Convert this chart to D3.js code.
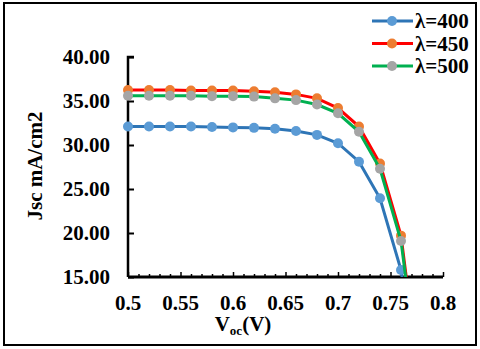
<!DOCTYPE html>
<html>
<head>
<meta charset="utf-8">
<script src="https://cdn.jsdelivr.net/npm/d3@7"></script>
<style>
  body { margin: 0; background: #fff; }
</style>
</head>
<body>
<div id="chart"></div>
<script>
// voltage points (V); the last one falls below the axis and is clipped
const voc = [0.5, 0.52, 0.54, 0.56, 0.58, 0.6, 0.62, 0.64, 0.66, 0.68, 0.70, 0.72, 0.74, 0.76, 0.78];
const jsc400 = [32.1, 32.1, 32.1, 32.1, 32.05, 32.0, 31.95, 31.85, 31.6, 31.15, 30.2, 28.1, 23.95, 15.8, -0.2];
const jsc450 = [36.25, 36.25, 36.25, 36.2, 36.2, 36.2, 36.1, 36.0, 35.75, 35.3, 34.2, 32.1, 27.9, 19.7, 0.9];
const jsc500 = [35.6, 35.6, 35.6, 35.6, 35.55, 35.55, 35.5, 35.3, 35.1, 34.6, 33.6, 31.5, 27.3, 19.1, 0.5];
const seriesNames = ["λ=400", "λ=450", "λ=500"];
const lineColors = ["#2E75B6", "#FF0000", "#00B050"];
const markerColors = ["#5B9BD5", "#ED7D31", "#A5A5A5"];
const xTicks = [0.5, 0.55, 0.6, 0.65, 0.7, 0.75, 0.8];
const yTicks = [15, 20, 25, 30, 35, 40];

const FONT = "'Liberation Serif', 'Times New Roman', serif";
const FS = 21;
const width = 480, height = 349;
const svg = d3.select("#chart").append("svg")
    .attr("width", width)
    .attr("height", height)
    .attr("font-family", FONT)
    .attr("font-weight", "bold");

// outer frame
svg.append("rect")
    .attr("x", 4).attr("y", 3)
    .attr("width", 472).attr("height", 342)
    .attr("fill", "#fff")
    .attr("stroke", "#000")
    .attr("stroke-width", 2);

const x = d3.scaleLinear().domain([0.5, 0.8]).range([128, 443]);
const y = d3.scaleLinear().domain([15, 40]).range([277, 57]);

svg.append("clipPath").attr("id", "plotclip")
  .append("rect")
    .attr("x", 120).attr("y", 40)
    .attr("width", 340).attr("height", 237);

// y axis
const yAxis = svg.append("g")
    .attr("transform", `translate(${x(0.5)},0)`)
    .call(d3.axisRight(y).tickValues(yTicks).tickSize(6).tickFormat(""));
yAxis.select(".domain").attr("stroke-width", 2.5).attr("d", `M6,${y(40)}H0V${y(15)}`);
yAxis.selectAll(".tick line").attr("stroke-width", 2);

yTicks.forEach(v => {
  svg.append("text")
      .attr("x", 110).attr("y", y(v) + 7)
      .attr("text-anchor", "end")
      .attr("font-size", FS)
      .text(v.toFixed(2));
});

// x axis with minor ticks every 0.01
const minor = d3.range(0, 31).map(i => 0.5 + i * 0.01);
const xAxis = svg.append("g")
    .attr("transform", `translate(0,${y(15)})`)
    .call(d3.axisTop(x).tickValues(minor).tickSize(3).tickFormat(""));
xAxis.select(".domain").attr("stroke-width", 3).attr("d", `M${x(0.5)},0H${x(0.8)}`);
xAxis.selectAll(".tick line").attr("stroke-width", 1.5)
    .attr("y2", (d, i) => i % 5 === 0 ? -5 : -3);

xTicks.forEach(v => {
  svg.append("text")
      .attr("x", x(v)).attr("y", 310)
      .attr("text-anchor", "middle")
      .attr("font-size", FS)
      .text(String(v));
});

// axis titles
const xt = svg.append("text")
    .attr("x", 243).attr("y", 331)
    .attr("text-anchor", "middle")
    .attr("font-size", FS);
xt.append("tspan").text("V");
xt.append("tspan").attr("font-size", 13).attr("dy", 4).text("oc");
xt.append("tspan").attr("dy", -4).text("(V)");

svg.append("text")
    .attr("transform", "translate(42,166) rotate(-90)")
    .attr("text-anchor", "middle")
    .attr("font-size", FS)
    .text("Jsc mA/cm2");

// series
const allSeries = [jsc400, jsc450, jsc500];
const line = d3.line()
    .x((d, i) => x(voc[i]))
    .y(d => y(d));

const plot = svg.append("g").attr("clip-path", "url(#plotclip)");
allSeries.forEach((vals, s) => {
  plot.append("path")
      .datum(vals)
      .attr("fill", "none")
      .attr("stroke", lineColors[s])
      .attr("stroke-width", 3)
      .attr("d", line);
  plot.selectAll(null)
      .data(vals)
      .join("circle")
      .attr("cx", (d, i) => x(voc[i]))
      .attr("cy", d => y(d))
      .attr("r", 5)
      .attr("fill", markerColors[s]);
});

// legend
seriesNames.forEach((name, s) => {
  const ly = 21 + s * 22.5;
  svg.append("line")
      .attr("x1", 372).attr("x2", 413)
      .attr("y1", ly).attr("y2", ly)
      .attr("stroke", lineColors[s])
      .attr("stroke-width", 3);
  svg.append("circle")
      .attr("cx", 392).attr("cy", ly).attr("r", 5)
      .attr("fill", markerColors[s]);
  svg.append("text")
      .attr("x", 415).attr("y", ly + 7)
      .attr("font-size", FS)
      .text(name);
});
</script>
</body>
</html>
